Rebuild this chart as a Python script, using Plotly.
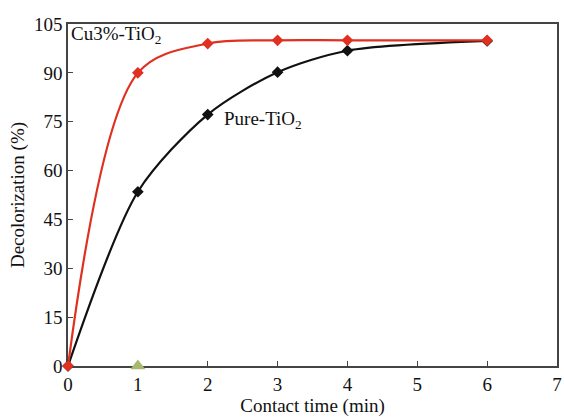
import plotly.graph_objects as go

time_cu = [0, 1, 2, 3, 4, 6]
decol_cu = [0, 90, 99, 100, 100, 100]
time_pure = [0, 1, 2, 3, 4, 6]
decol_pure = [0, 53.5, 77.2, 90.2, 96.8, 99.8]
time_ctrl = [1]
decol_ctrl = [0]

font_family = "Liberation Serif"

fig = go.Figure()
fig.add_trace(go.Scatter(x=time_pure, y=decol_pure, mode="lines+markers",
                         line=dict(color="#111111", width=2.2, shape="spline", smoothing=0.8),
                         marker=dict(symbol="diamond", size=9, color="#111111"),
                         showlegend=False, cliponaxis=False))
fig.add_trace(go.Scatter(x=time_cu, y=decol_cu, mode="lines+markers",
                         line=dict(color="#e03020", width=2.2, shape="spline", smoothing=0.95),
                         marker=dict(symbol="diamond", size=9, color="#e03020"),
                         showlegend=False, cliponaxis=False))
fig.add_trace(go.Scatter(x=time_ctrl, y=decol_ctrl, mode="markers",
                         marker=dict(symbol="triangle-up", size=13, color="#a8b86c"),
                         showlegend=False, cliponaxis=False))

fig.add_annotation(x=0.003, y=1.0, xref="paper", yref="paper", text="Cu3%-TiO<sub>2</sub>",
                   showarrow=False, xanchor="left", yanchor="top", yshift=3,
                   font=dict(family=font_family, size=19, color="#111111"))
fig.add_annotation(x=2.2, y=75.5, xref="x", yref="y", text="Pure-TiO<sub>2</sub>",
                   showarrow=False, xanchor="left", yanchor="middle",
                   font=dict(family=font_family, size=19, color="#111111"))

axis_common = dict(showline=True, linecolor="#444444", linewidth=1.5, mirror=True,
                   ticks="inside", ticklen=5, tickcolor="#444444", tickwidth=1.2,
                   showgrid=False, zeroline=False, automargin=False,
                   layer="below traces", ticklabeloverflow="allow",
                   tickfont=dict(family=font_family, size=19, color="#111111"))

fig.update_xaxes(range=[0, 7], tickvals=[0, 1, 2, 3, 4, 5, 6, 7],
                 title=dict(text="Contact time (min)", standoff=2,
                            font=dict(family=font_family, size=19, color="#111111")),
                 **axis_common)
fig.update_yaxes(range=[0, 105], tickvals=[0, 15, 30, 45, 60, 75, 90, 105],
                 title=dict(text="Decolorization (%)", standoff=4,
                            font=dict(family=font_family, size=19, color="#111111")),
                 **axis_common)

fig.update_layout(width=564, height=418, margin=dict(l=68, r=7, t=24, b=52),
                  plot_bgcolor="white", paper_bgcolor="white")

fig.write_html("out.html", config={"displayModeBar": False},
               post_script="document.body.style.margin='0';document.body.style.overflow='hidden';")
